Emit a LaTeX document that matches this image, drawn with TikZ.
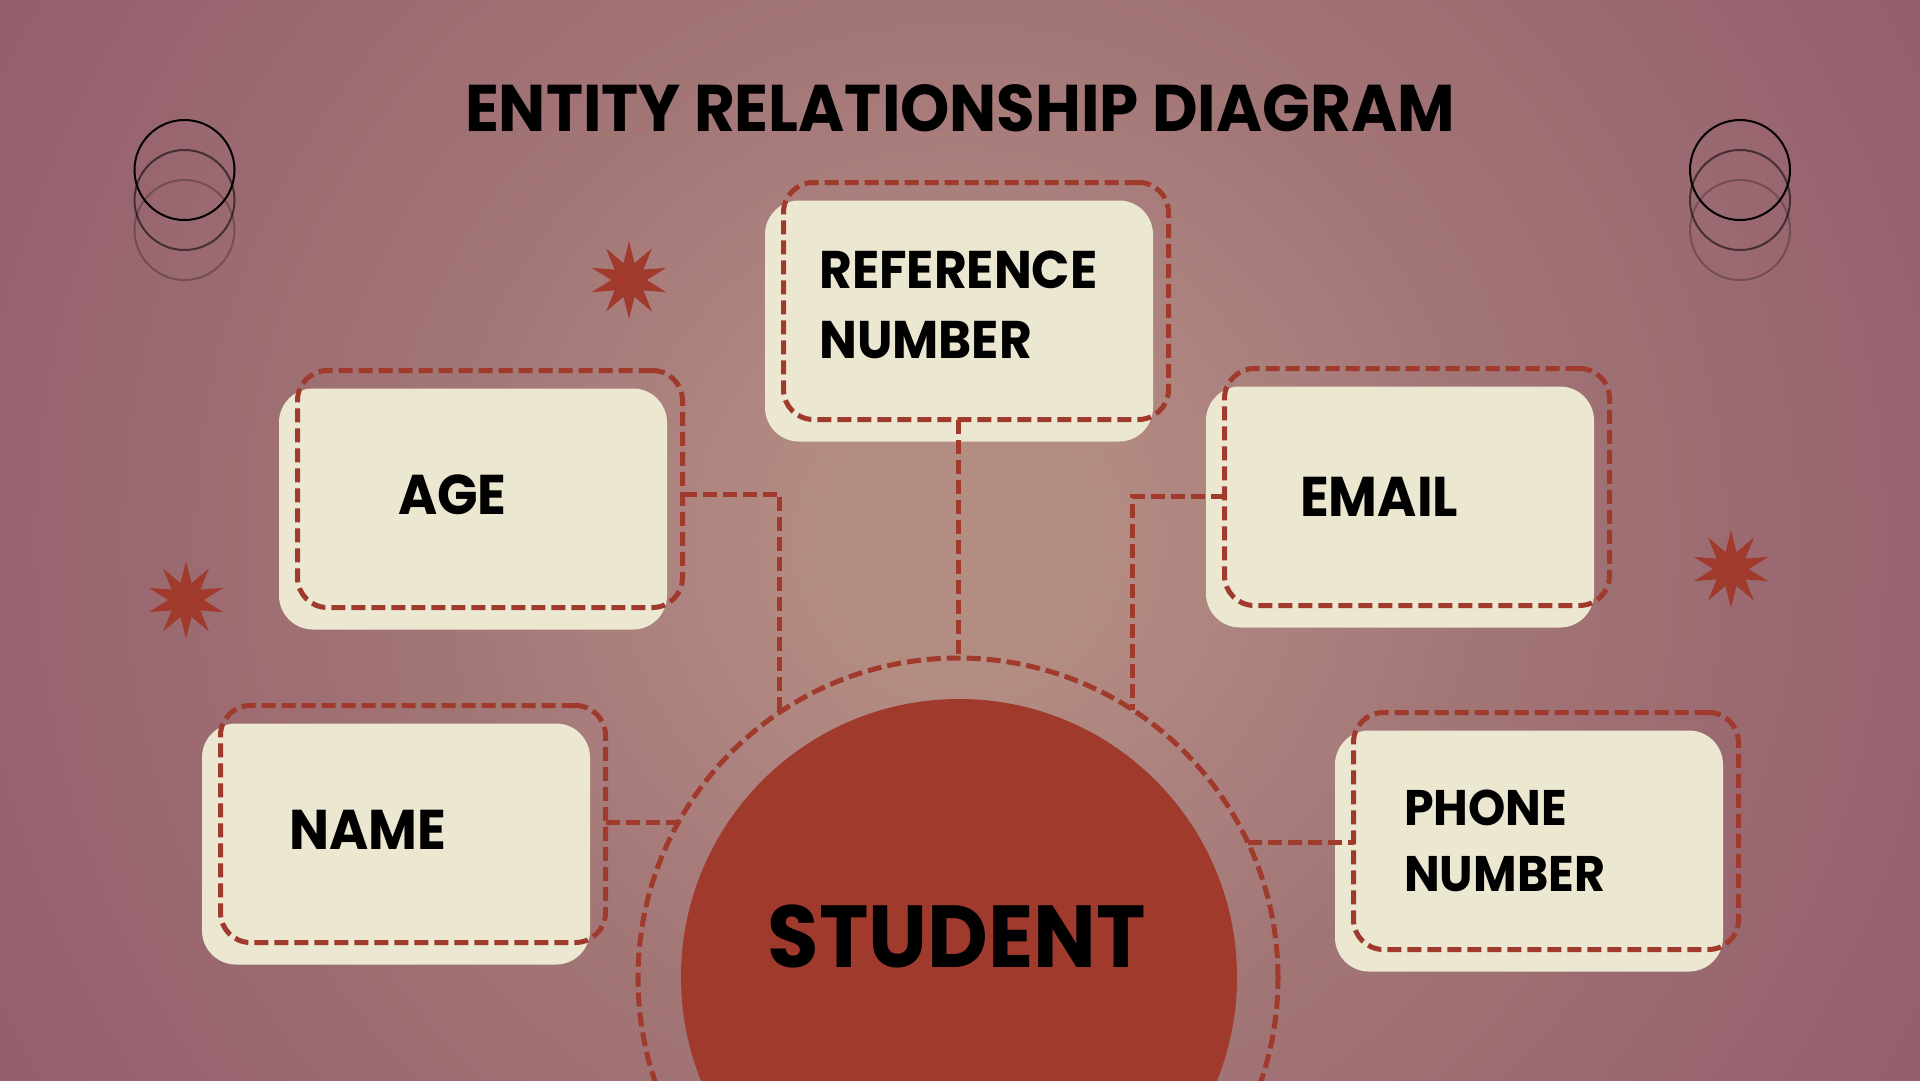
\documentclass[tikz,border=0pt]{standalone}
\usepackage{fontspec}
\setmainfont{Poppins}[BoldFeatures={FakeStretch=0.95}]
\usetikzlibrary{shapes.geometric,calc}

\definecolor{bgA}{HTML}{B38C82}
\definecolor{bgB}{HTML}{AB817E}
\definecolor{bgC}{HTML}{A27575}
\definecolor{bgD}{HTML}{97636F}
\definecolor{bgE}{HTML}{935F6C}
\definecolor{cream}{HTML}{ECE7D1}
\definecolor{brick}{HTML}{A03A2C}

% round backdrop glow at its natural size (radii in page units)
\pgfdeclareradialshading{backdrop}{\pgfpoint{0bp}{0bp}}{%
  color(0bp)=(bgA); color(140bp)=(bgA); color(330bp)=(bgB);
  color(540bp)=(bgC); color(960bp)=(bgD); color(1120bp)=(bgE)}

\begin{document}
\begin{tikzpicture}[x=1pt,y=-1pt,
  card/.style={fill=cream, rounded corners=34pt, minimum width=388pt,
    minimum height=241pt, inner sep=0pt, outer sep=0pt},
  frame/.style={draw=brick, line width=5pt, dash pattern=on 14pt off 6pt,
    rounded corners=30pt, minimum width=385pt, minimum height=237pt,
    inner sep=0pt, outer sep=0pt},
  link/.style={draw=brick, line width=5pt, dash pattern=on 14pt off 6pt},
  label/.style={anchor=base west, inner sep=0pt, text=black,
    font=\fontsize{53}{60}\selectfont\bfseries},
  biglabel/.style={label, font=\fontsize{56}{60}\selectfont\bfseries},
  smalllabel/.style={label, font=\fontsize{50}{60}\selectfont\bfseries},
  burst/.style={star, star points=10, star point ratio=2.2, fill=brick,
    minimum size=78pt, inner sep=0pt},
  ringline/.style={line width=2pt},
]
\useasboundingbox (0,0) rectangle (1920,1080);
\clip (0,0) rectangle (1920,1080);
\node[inner sep=0pt, outer sep=0pt] (glow) at (960,540) {\pgfuseshading{backdrop}};

% stacked ring ornaments
\foreach \cx in {184.5,1740}{
  \draw[ringline, black, draw opacity=0.25] (\cx,230) circle[radius=50pt];
  \draw[ringline, black, draw opacity=0.55] (\cx,200) circle[radius=50pt];
  \draw[ringline, black] (\cx,170) circle[radius=50pt];
}

% star bursts
\node[burst] (burstA) at (629,280) {};
\node[burst] (burstB) at (186,600) {};
\node[burst] (burstC) at (1731,569) {};

% central entity
\node[circle, draw=brick, line width=5pt, dash pattern=on 14pt off 6pt,
  minimum size=640pt, inner sep=0pt, outer sep=0pt] (ring) at (958,978) {};
\node[circle, fill=brick, minimum size=556pt, inner sep=0pt] (core) at (959,977) {};
\node[anchor=base, inner sep=0pt, font=\fontsize{88}{90}\selectfont\bfseries]
  (student) at (957,967) {STUDENT};

% attribute cards
\node[card] (refcard) at (959,321) {};
\node[frame] (refframe) at (976,301) {};
\node[card] (agecard) at (473,509) {};
\node[frame] (ageframe) at (490,489) {};
\node[card] (emailcard) at (1400,507) {};
\node[frame] (emailframe) at (1417,487) {};
\node[card] (namecard) at (396,844) {};
\node[frame] (nameframe) at (413,824) {};
\node[card] (phonecard) at (1529,851) {};
\node[frame] (phoneframe) at (1546,831) {};

% connectors
\draw[link] (refframe.south -| ring.north) -- (ring.north);
\draw[link] ($(ageframe.east)+(0,5)$) -| (ring.124.7);
\draw[link] ($(emailframe.west)+(0,9)$) -| (ring.57.5);
\draw[link] (nameframe.east |- ring.151) -- (ring.151);
\draw[link] (ring.25) -- (ring.25 -| phoneframe.west);

% labels
\node[label] (refl1) at (819,288) {REFERENCE};
\node[label] (refl2) at (819,358) {NUMBER};
\node[biglabel] (agel) at (398,514) {AGE};
\node[biglabel] (emaill) at (1300,516) {EMAIL};
\node[biglabel] (namel) at (289,849) {NAME};
\node[smalllabel] (phonel1) at (1404,825) {PHONE};
\node[smalllabel] (phonel2) at (1404,891) {NUMBER};

% heading
\node[anchor=base, inner sep=0pt, font=\fontsize{66}{70}\selectfont\bfseries]
  (title) at (960,131) {ENTITY RELATIONSHIP DIAGRAM};
\end{tikzpicture}
\end{document}
